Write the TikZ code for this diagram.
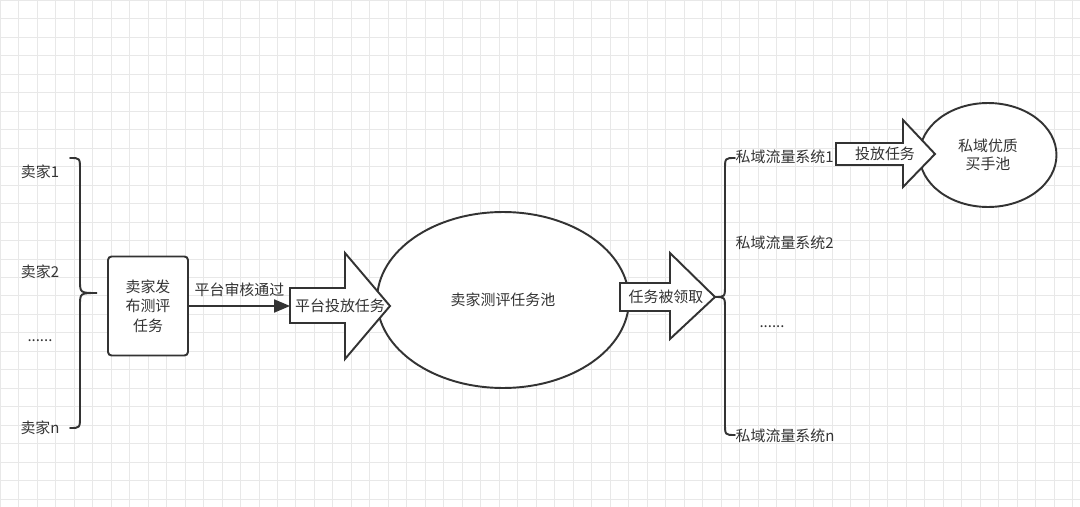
\documentclass[tikz,border=0pt]{standalone}
\usepackage{fontspec}
\setmainfont{Noto Sans CJK SC}
\usetikzlibrary{shapes,arrows,shapes.geometric,positioning}
\definecolor{ink}{HTML}{333333}

\begin{document}
\begin{tikzpicture}[x=0.02cm,y=-0.02cm,line width=1.1pt,draw=ink,
    lbl/.style={font=\fontsize{8.5}{10}\selectfont,text=ink,inner sep=1pt},
    pool/.style={ellipse,draw=ink,fill=white,line width=1.1pt,font=\fontsize{8.5}{10}\selectfont,text=ink,align=center},
    task/.style={draw=ink,fill=white,rounded corners=2pt,line width=1.1pt,minimum width=1.6cm,minimum height=1.98cm,align=center,font=\fontsize{8.5}{11}\selectfont,text=ink},
    bigarrow/.style={draw=ink,fill=white,line width=1.1pt,line join=miter}]
    % background grid
    \fill[white] (0,0) rectangle (1080,507);
    \useasboundingbox (0,0) rectangle (1080,507);
    \draw[gray!18,line width=0.5pt,step=0.37cm] (0,0) grid (1080,507);

    % sellers
    \node[lbl] (s1) at (40,172) {卖家1};
    \node[lbl] (s2) at (40,272) {卖家2};
    \node[lbl] (sd) at (40,341) {......};
    \node[lbl] (sn) at (40,428) {卖家n};
    \coordinate (bl) at (97,293);
    \draw[line cap=round] (70,158) .. controls (80,158) .. (80,170) -- (80,280)
      .. controls (80,293) .. (bl) .. controls (80,293) .. (80,306) -- (80,416)
      .. controls (80,428) .. (70,428);

    \node[task] (pub) at (148,306) {卖家发\\布测评\\任务};

    % arrows and pools
    \node[pool,minimum width=5.04cm,minimum height=3.52cm] (pool) at (503,300) {卖家测评任务池};
    \node[pool,minimum width=2.74cm,minimum height=2.08cm] (buyer) at (988,155) {私域优质\\买手池};

    \draw[bigarrow] (290,288) -- (345,288) -- (345,253) -- (390,306) -- (345,359) -- (345,323) -- (290,323) -- cycle;
    \node[lbl] (put) at (340,306) {平台投放任务};
    \coordinate (putin) at (290,306);
    \draw[-triangle 45] (pub.east |- putin) -- (putin)
      node[lbl,midway,above=4pt] (check) {平台审核通过};

    \draw[bigarrow] (620,283) -- (670,283) -- (670,253) -- (715,297) -- (670,339) -- (670,311) -- (620,311) -- cycle;
    \node[lbl] (take) at (666,297) {任务被领取};

    % private traffic systems
    \coordinate (br) at (715,297);
    \draw[line cap=round] (735,158) .. controls (725,158) .. (725,170) -- (725,285)
      .. controls (725,297) .. (br) .. controls (725,297) .. (725,309) -- (725,423)
      .. controls (725,435) .. (735,435);
    \node[lbl,anchor=west] (p1) at (733,157) {私域流量系统1};
    \node[lbl,anchor=west] (p2) at (733,243) {私域流量系统2};
    \node[lbl] (pd) at (772,327) {......};
    \node[lbl,anchor=west] (pn) at (733,436) {私域流量系统n};

    \draw[bigarrow] (836,143) -- (903,143) -- (903,120) -- (935,154) -- (903,187) -- (903,165) -- (836,165) -- cycle;
    \node[lbl] (send) at (885,154) {投放任务};
\end{tikzpicture}
\end{document}
